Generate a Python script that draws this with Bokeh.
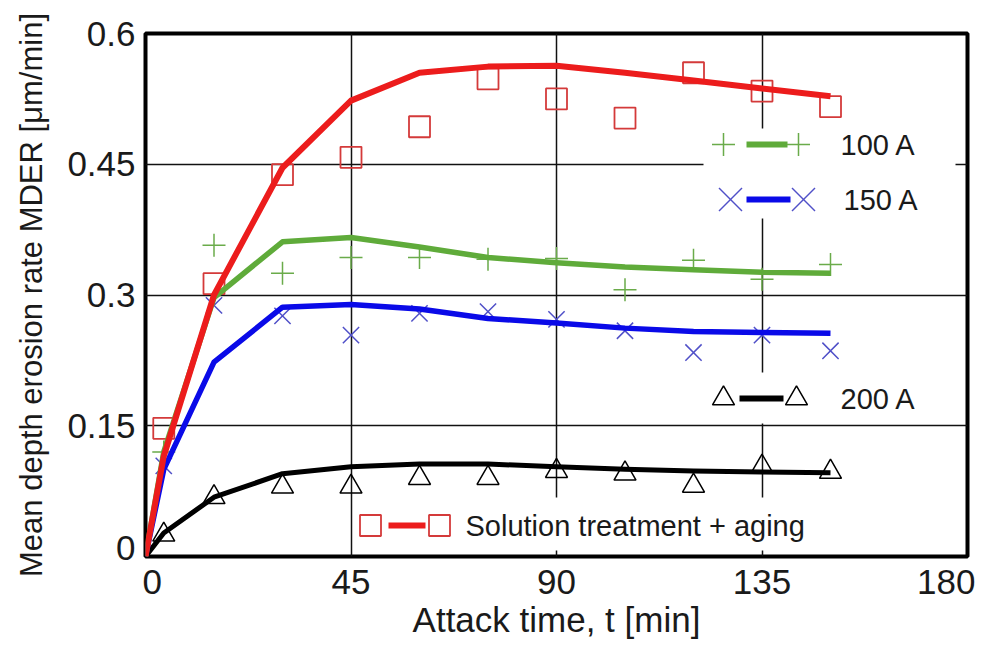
from bokeh.plotting import figure
from bokeh.models import Range1d, FixedTicker, Label, BoxAnnotation, PolyAnnotation
from bokeh.embed import file_html
from bokeh.resources import INLINE

# ---------------- data ----------------
t_fit = [0, 4, 15, 30, 45, 60, 75, 90, 105, 120, 135, 150]
red_fit = [0, 0.115, 0.300, 0.446, 0.523, 0.555, 0.562, 0.563, 0.555, 0.546, 0.537, 0.528]
green_fit = [0, 0.120, 0.297, 0.361, 0.366, 0.355, 0.343, 0.337, 0.332, 0.329, 0.326, 0.325]
blue_fit = [0, 0.100, 0.223, 0.286, 0.289, 0.284, 0.273, 0.268, 0.262, 0.258, 0.257, 0.256]
black_fit = [0, 0.027, 0.068, 0.095, 0.103, 0.106, 0.106, 0.103, 0.100, 0.098, 0.097, 0.096]

t_obs = [4, 15, 30, 45, 60, 75, 90, 105, 120, 135, 150]
red_obs = [0.147, 0.313, 0.438, 0.458, 0.493, 0.548, 0.525, 0.503, 0.555, 0.534, 0.516]
green_obs = [0.120, 0.357, 0.325, 0.343, 0.343, 0.341, 0.342, 0.306, 0.340, 0.318, 0.335]
blue_obs = [0.104, 0.288, 0.276, 0.254, 0.279, 0.281, 0.272, 0.259, 0.234, 0.254, 0.236]
black_obs = [0.025, 0.068, 0.080, 0.080, 0.090, 0.090, 0.098, 0.095, 0.081, 0.103, 0.097]

x_ticks = [0, 45, 90, 135, 180]
x_tick_labels = ["0", "45", "90", "135", "180"]
y_ticks = [0, 0.15, 0.3, 0.45, 0.6]
y_tick_labels = ["0", "0.15", "0.3", "0.45", "0.6"]
series_names = ["100 A", "150 A", "200 A", "Solution treatment + aging"]
x_title = "Attack time, t [min]"
y_title = "Mean depth erosion rate MDER [μm/min]"

# ---------------- layout / styles ----------------
# the end labels of the axes sit slightly inside, as in the reference
x_label_pos = [1.5, 45, 90, 135, 176.3]
y_label_pos = [0.01, 0.15, 0.3, 0.45, 0.6]

FONT = "Liberation Sans"
TXT = "#1a1a1a"
RED_L, RED_M = "#ec1c1c", "#d43a3a"
GRN_L, GRN_M = "#5fab3a", "#6aab4a"
BLU_L, BLU_M = "#0a0ae8", "#5050c8"
BLK = "#000000"

p = figure(width=975, height=651, x_range=Range1d(0, 180), y_range=Range1d(0, 0.6),
           output_backend="svg", toolbar_location=None, title=None,
           min_border_left=145, min_border_right=8, min_border_top=33, min_border_bottom=95)
p.background_fill_color = "white"
p.border_fill_color = "white"
p.outline_line_color = "black"
p.outline_line_width = 4

p.xaxis.ticker = FixedTicker(ticks=x_label_pos)
p.yaxis.ticker = FixedTicker(ticks=y_label_pos)
p.xaxis.major_label_overrides = dict(zip(x_label_pos, x_tick_labels))
p.yaxis.major_label_overrides = dict(zip(y_label_pos, y_tick_labels))
p.xgrid.ticker = FixedTicker(ticks=x_ticks)
p.ygrid.ticker = FixedTicker(ticks=y_ticks)

for ax in (p.xaxis[0], p.yaxis[0]):
    ax.axis_line_color = None
    ax.major_tick_line_color = None
    ax.minor_tick_line_color = None
    ax.major_tick_out = 0
    ax.major_tick_in = 0
    ax.minor_tick_out = 0
    ax.minor_tick_in = 0
    ax.major_label_text_font = FONT
    ax.major_label_text_font_size = "35px"
    ax.major_label_text_color = TXT
    ax.axis_label_text_font = FONT
    ax.axis_label_text_font_style = "normal"
    ax.axis_label_text_color = TXT
p.xaxis.major_label_standoff = 13
p.yaxis.major_label_standoff = 10
p.xaxis.axis_label = x_title
p.xaxis.axis_label_text_font_size = "35px"
p.xaxis.axis_label_standoff = 3
p.yaxis.axis_label = y_title
p.yaxis.axis_label_text_font_size = "31px"
p.yaxis.axis_label_standoff = 15

p.grid.grid_line_color = "#111111"
p.grid.grid_line_width = 1.5

# ---------------- legend backgrounds (screen units, frame-relative) ----------------
for (l, r, b, t) in [(558, 810, 338, 428), (558, 810, 133, 184), (208, 685, 6, 59)]:
    p.add_layout(BoxAnnotation(left=l, right=r, bottom=b, top=t,
                               left_units="screen", right_units="screen",
                               bottom_units="screen", top_units="screen",
                               fill_color="white", fill_alpha=1.0, line_color=None,
                               level="underlay"))

# ---------------- data glyphs ----------------
p.scatter(t_obs, black_obs, marker="triangle", size=22, fill_color=None, line_color=BLK, line_width=1.5)
p.scatter(t_obs, blue_obs, marker="x", size=23, line_color=BLU_M, line_width=1.5)
p.scatter(t_obs, green_obs, marker="cross", size=23, line_color=GRN_M, line_width=1.5)
p.scatter(t_obs, red_obs, marker="square", size=21, fill_color=None, line_color=RED_M, line_width=1.8)

p.line(t_fit, black_fit, line_color=BLK, line_width=5, line_join="round")
p.line(t_fit, blue_fit, line_color=BLU_L, line_width=5.5, line_join="round")
p.line(t_fit, green_fit, line_color=GRN_L, line_width=5.5, line_join="round")
p.line(t_fit, red_fit, line_color=RED_L, line_width=6, line_join="round")


# ---------------- legend samples (screen units, frame-relative) ----------------
def poly(xs, ys, color, width=1.5):
    p.add_layout(PolyAnnotation(xs=xs, ys=ys, xs_units="screen", ys_units="screen",
                                fill_color=None, fill_alpha=0, line_color=color,
                                line_alpha=1.0, line_width=width))


def mark(kind, cx, cy, color):
    if kind == "square":
        h = 10.5
        poly([cx - h, cx + h, cx + h, cx - h], [cy - h, cy - h, cy + h, cy + h], color, 1.8)
    elif kind == "cross":
        h = 11.5
        poly([cx - h, cx + h], [cy, cy], color)
        poly([cx, cx], [cy - h, cy + h], color)
    elif kind == "x":
        h = 11.5
        poly([cx - h, cx + h], [cy - h, cy + h], color)
        poly([cx - h, cx + h], [cy + h, cy - h], color)
    elif kind == "triangle":
        w = 11
        hh = 19
        poly([cx - w, cx + w, cx], [cy - hh / 3, cy - hh / 3, cy + 2 * hh / 3], color)


legend_rows = [
    # kind, marker color, line color, cy, marker xs, line x0, x1, text x, label
    ("cross", GRN_M, GRN_L, 412, (578, 653), 601, 642, 695, series_names[0]),
    ("x", BLU_M, BLU_L, 357, (585, 658), 601, 645, 698, series_names[1]),
    ("triangle", BLK, BLK, 158, (578, 651), 594, 638, 695, series_names[2]),
    ("square", RED_M, RED_L, 31, (225, 294), 243, 280, 320, series_names[3]),
]
for kind, mc, lc, cy, mxs, x0, x1, tx, lab in legend_rows:
    p.add_layout(BoxAnnotation(left=x0, right=x1, bottom=cy - 3, top=cy + 3,
                               left_units="screen", right_units="screen",
                               bottom_units="screen", top_units="screen",
                               fill_color=lc, fill_alpha=1.0, line_color=None))
    for mx in mxs:
        mark(kind, mx, cy, mc)
    p.add_layout(Label(x=tx, y=cy, x_units="screen", y_units="screen", text=lab,
                       text_font=FONT, text_font_size="29px", text_color=TXT,
                       text_align="left", text_baseline="middle"))

open("out.html", "w").write(file_html(p, INLINE))
